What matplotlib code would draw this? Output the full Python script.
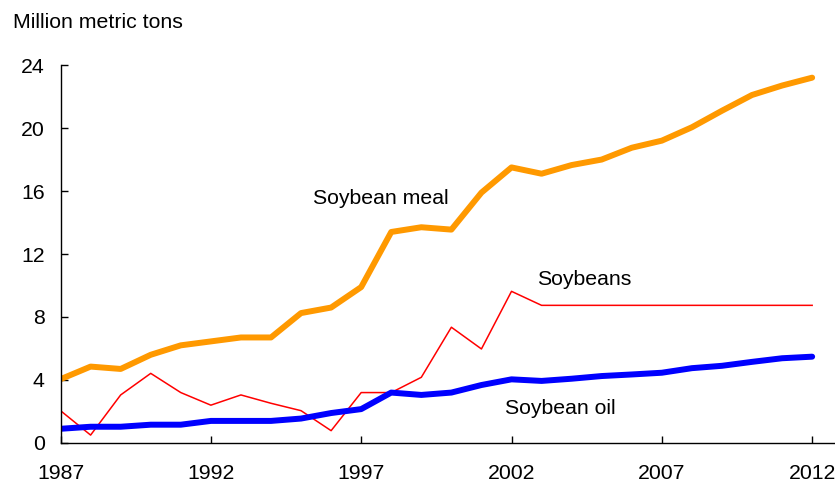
import matplotlib
matplotlib.use("Agg")
import matplotlib.pyplot as plt

years = list(range(1987, 2013))
soybean_meal = [4.05, 4.85, 4.7, 5.6, 6.2, 6.45, 6.7, 6.7, 8.25, 8.6, 9.9, 13.4, 13.7, 13.55,
                15.9, 17.5, 17.1, 17.65, 18.0, 18.75, 19.2, 20.05, 21.1, 22.1, 22.7, 23.2]
soybeans = [2.05, 0.5, 3.05, 4.42, 3.2, 2.4, 3.05, 2.52, 2.05, 0.78, 3.2, 3.2, 4.17, 7.35,
            5.97, 9.63, 8.74, 8.74, 8.74, 8.74, 8.74, 8.74, 8.74, 8.74, 8.74, 8.74]
soybean_oil = [0.9, 1.03, 1.03, 1.16, 1.16, 1.4, 1.4, 1.4, 1.55, 1.9, 2.15, 3.2, 3.05, 3.2,
               3.68, 4.04, 3.94, 4.08, 4.25, 4.35, 4.46, 4.75, 4.9, 5.15, 5.38, 5.48]
yticks = [0, 4, 8, 12, 16, 20, 24]
xticks = [1987, 1992, 1997, 2002, 2007, 2012]

FS = 15.3
plt.rcParams['font.family'] = ['Liberation Sans', 'DejaVu Sans']
fig = plt.figure(figsize=(8.35, 4.82), dpi=100)
ax = fig.add_axes([0.0725, 0.081, 0.9275, 0.784])

ax.plot(years, soybean_meal, color='#FF9900', lw=4.3, solid_joinstyle='round', solid_capstyle='round')
ax.plot(years, soybeans, color='#FF0000', lw=1.1)
ax.plot(years, soybean_oil, color='#0000FF', lw=4.3, solid_joinstyle='round', solid_capstyle='round')

ax.set_xlim(1987, 2012.76)
ax.set_ylim(0, 24)
ax.set_xticks(xticks)
ax.set_yticks(yticks)
ax.tick_params(direction='in', length=5, width=1, labelsize=FS)
ax.tick_params(axis='x', pad=15.5)
ax.tick_params(axis='y', pad=11.5)
for s in ['top', 'right']:
    ax.spines[s].set_visible(False)
for s in ['left', 'bottom']:
    ax.spines[s].set_linewidth(1.0)
ax.patch.set_alpha(0)

ax.text(1995.4, 15.5, 'Soybean meal', fontsize=FS, ha='left', va='center')
ax.text(2002.85, 10.4, 'Soybeans', fontsize=FS, ha='left', va='center')
ax.text(2001.78, 2.22, 'Soybean oil', fontsize=FS, ha='left', va='center')
fig.text(13/835, 1 - 23/482, 'Million metric tons', fontsize=FS, ha='left', va='center')

fig.savefig('out.png', dpi=100)
